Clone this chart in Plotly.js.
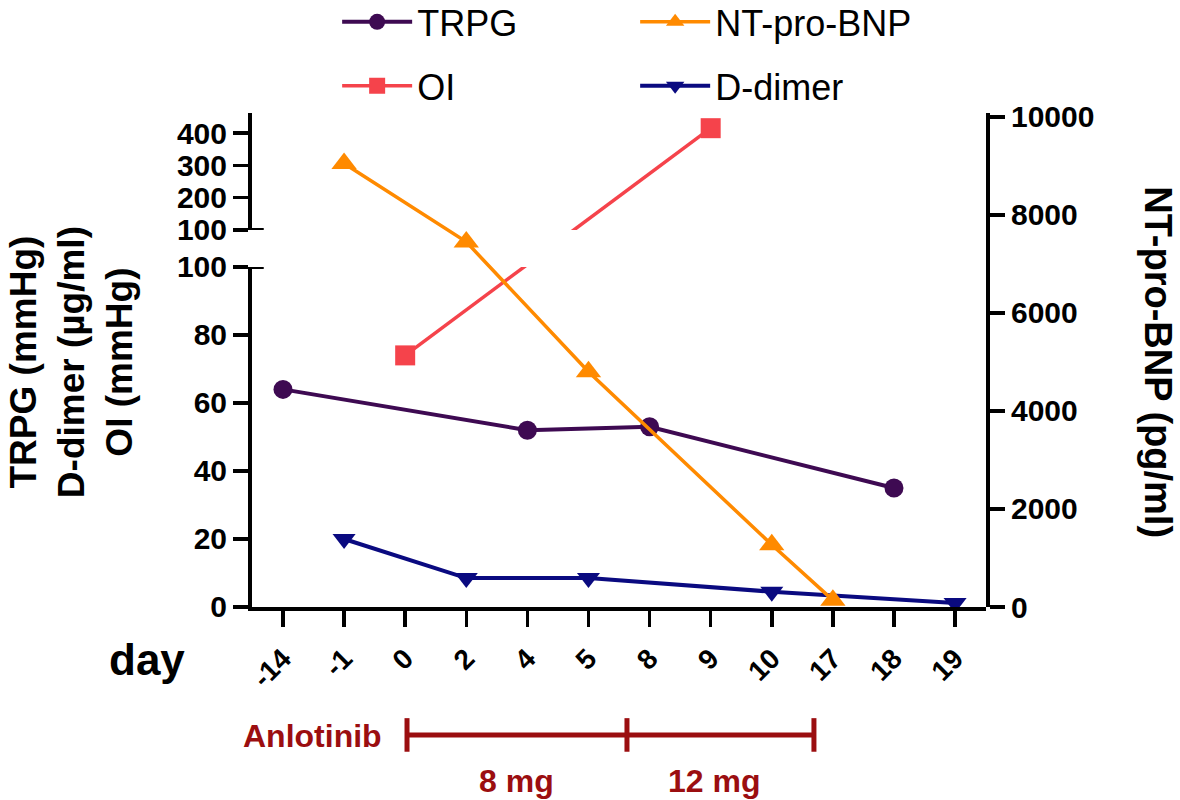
<!DOCTYPE html>
<html><head><meta charset="utf-8">
<script src="https://cdn.plot.ly/plotly-3.0.1.min.js"></script>
<style>html,body{margin:0;padding:0;background:#fff}</style>
</head><body><div id="chart" style="width:1180px;height:800px"></div>
<script>
// ---- data ----
const days = ['-14','-1','0','2','4','5','8','9','10','17','18','19'];
const trpgDays = ['-14','4','8','18'];
const trpgValues = [64, 52, 53, 35];
const oiDays = ['0','9'];
const oiValues = [74, 415];
const bnpDays = ['-1','2','5','10','17'];
const bnpValues = [9050, 7450, 4800, 1270, 140];
const ddimerDays = ['-1','2','5','10','19'];
const ddimerValues = [20, 8.5, 8.5, 4.5, 1.2];
const leftLowerTicks = [0, 20, 40, 60, 80, 100];
const leftUpperTicks = [100, 200, 300, 400];
const rightTicks = [0, 2000, 4000, 6000, 8000, 10000];
const doseLabels = ['8 mg', '12 mg'];

// ---- broken left axis geometry ----
const lowerDomain = [0, 0.6883], lowerRange = [0, 100];
const upperDomain = [0.7632, 1], upperRange = [100, 462];
function frac(v) {
  if (v <= lowerRange[1]) return lowerDomain[0] + (v - lowerRange[0]) / (lowerRange[1] - lowerRange[0]) * (lowerDomain[1] - lowerDomain[0]);
  return upperDomain[0] + (v - upperRange[0]) / (upperRange[1] - upperRange[0]) * (upperDomain[1] - upperDomain[0]);
}
function toLower(f) { return lowerRange[0] + (f - lowerDomain[0]) / (lowerDomain[1] - lowerDomain[0]) * (lowerRange[1] - lowerRange[0]); }
function toUpper(f) { return upperRange[0] + (f - upperDomain[0]) / (upperDomain[1] - upperDomain[0]) * (upperRange[1] - upperRange[0]); }

const FONT = 'Liberation Sans, Arial, Helvetica, sans-serif';
const C_TRPG = '#3E0A52', C_OI = '#F5434B', C_BNP = '#FF8A00', C_DD = '#0A0A80', C_RED = '#9B0E10';

const traces = [
  {x: trpgDays, y: trpgValues, name: 'TRPG', xaxis: 'x', yaxis: 'y', mode: 'lines+markers',
   line: {color: C_TRPG, width: 4}, marker: {symbol: 'circle', size: 19, color: C_TRPG},
   legend: 'legend', legendgroup: 'a', cliponaxis: false},
  {x: oiDays, y: oiValues.map(v => toLower(frac(v))), name: 'OI', xaxis: 'x', yaxis: 'y', mode: 'lines+markers',
   line: {color: C_OI, width: 3.5}, marker: {symbol: 'square', size: 20, color: C_OI},
   legend: 'legend', legendgroup: 'b', cliponaxis: true},
  {x: oiDays, y: oiValues.map(v => toUpper(frac(v))), name: 'OI', xaxis: 'x', yaxis: 'y2', mode: 'lines+markers',
   line: {color: C_OI, width: 3.5}, marker: {symbol: 'square', size: 20, color: C_OI},
   showlegend: false, legendgroup: 'b', cliponaxis: true},
  {x: bnpDays, y: bnpValues, name: 'NT-pro-BNP', xaxis: 'x', yaxis: 'y3', mode: 'lines+markers',
   line: {color: C_BNP, width: 3.5}, marker: {symbol: 'triangle-up', size: 22, color: C_BNP},
   legend: 'legend2', legendgroup: 'c', cliponaxis: false},
  {x: ddimerDays, y: ddimerValues, name: 'D-dimer', xaxis: 'x', yaxis: 'y', mode: 'lines+markers',
   line: {color: C_DD, width: 4}, marker: {symbol: 'triangle-down', size: 20, color: C_DD},
   legend: 'legend2', legendgroup: 'd', cliponaxis: false}
];

const axisStyle = {
  showline: true, linewidth: 4, linecolor: '#000', ticks: 'outside', ticklen: 15, tickwidth: 3.5,
  tickcolor: '#000', showgrid: false, zeroline: false, fixedrange: true,
  tickfont: {family: FONT, size: 30, color: '#000', weight: 'bold'}
};

const tlY = -0.259, tlY0 = -0.225, tlY1 = -0.293;
const tlStart = 2.03, tlSwitch = 5.63, tlEnd = 8.69;

const legendBase = {
  yanchor: 'top', xanchor: 'left', y: 1.245, orientation: 'v',
  font: {family: FONT, size: 36, color: '#000'}, tracegroupgap: 14,
  bgcolor: 'rgba(0,0,0,0)', itemwidth: 70
};

const layout = {
  width: 1180, height: 800,
  margin: {l: 252, r: 194, t: 113, b: 193, autoexpand: false},
  paper_bgcolor: '#fff', plot_bgcolor: 'rgba(0,0,0,0)',
  font: {family: FONT, color: '#000'},
  xaxis: Object.assign({}, axisStyle, {
    type: 'category', categoryorder: 'array', categoryarray: days,
    tickvals: days, range: [-0.507, 11.506], anchor: 'y', domain: [0, 1],
    ticklen: 16, tickangle: -45, ticklabelstandoff: 4,
    tickfont: {family: FONT, size: 28, color: '#000', weight: 'bold'}
  }),
  yaxis: Object.assign({}, axisStyle, {domain: lowerDomain, range: lowerRange, tickvals: leftLowerTicks, anchor: 'x'}),
  yaxis2: Object.assign({}, axisStyle, {domain: upperDomain, range: upperRange, tickvals: leftUpperTicks, anchor: 'x'}),
  yaxis3: Object.assign({}, axisStyle, {domain: [0, 1], range: [0, 10080], tickvals: rightTicks,
    ticktext: rightTicks.map(String), anchor: 'x', side: 'right'}),
  showlegend: true,
  legend: Object.assign({}, legendBase, {x: 0.116}),
  legend2: Object.assign({}, legendBase, {x: 0.522}),
  annotations: [
    {text: 'TRPG (mmHg)<br>D-dimer (µg/ml)<br>OI (mmHg)', xref: 'paper', yref: 'paper', x: -0.245, y: 0.496,
     textangle: -90, showarrow: false, xanchor: 'center', yanchor: 'middle', align: 'center',
     font: {family: FONT, size: 37, color: '#000', weight: 'bold'}},
    {text: 'NT-pro-BNP (pg/ml)', xref: 'paper', yref: 'paper', x: 1.234, y: 0.496,
     textangle: 90, showarrow: false, xanchor: 'center', yanchor: 'middle',
     font: {family: FONT, size: 38, color: '#000', weight: 'bold'}},
    {text: 'day', xref: 'paper', yref: 'paper', x: -0.143, y: -0.107, showarrow: false,
     xanchor: 'center', yanchor: 'middle', font: {family: FONT, size: 44, color: '#000', weight: 'bold'}},
    {text: 'Anlotinib', xref: 'paper', yref: 'paper', x: 0.18, y: -0.261, showarrow: false,
     xanchor: 'right', yanchor: 'middle', font: {family: FONT, size: 32, color: C_RED, weight: 'bold'}},
    {text: doseLabels[0], xref: 'x', yref: 'paper', x: (tlStart + tlSwitch) / 2, y: -0.353, showarrow: false,
     xanchor: 'center', yanchor: 'middle', font: {family: FONT, size: 32, color: C_RED, weight: 'bold'}},
    {text: doseLabels[1], xref: 'x', yref: 'paper', x: (tlSwitch + tlEnd) / 2 - 0.1, y: -0.353, showarrow: false,
     xanchor: 'center', yanchor: 'middle', font: {family: FONT, size: 32, color: C_RED, weight: 'bold'}}
  ],
  shapes: [
    {type: 'line', xref: 'paper', yref: 'y', x0: 0, x1: 0.016, y0: 100, y1: 100, line: {color: '#000', width: 4}},
    {type: 'line', xref: 'paper', yref: 'y2', x0: 0, x1: 0.016, y0: 100, y1: 100, line: {color: '#000', width: 4}},
    {type: 'line', xref: 'x', yref: 'paper', x0: tlStart, x1: tlEnd, y0: tlY, y1: tlY, line: {color: C_RED, width: 5}},
    {type: 'line', xref: 'x', yref: 'paper', x0: tlStart, x1: tlStart, y0: tlY0, y1: tlY1, line: {color: C_RED, width: 5}},
    {type: 'line', xref: 'x', yref: 'paper', x0: tlSwitch, x1: tlSwitch, y0: tlY0, y1: tlY1, line: {color: C_RED, width: 5}},
    {type: 'line', xref: 'x', yref: 'paper', x0: tlEnd, x1: tlEnd, y0: tlY0, y1: tlY1, line: {color: C_RED, width: 5}}
  ]
};

Plotly.newPlot('chart', traces, layout, {displayModeBar: false, staticPlot: true});
</script>
</body></html>
